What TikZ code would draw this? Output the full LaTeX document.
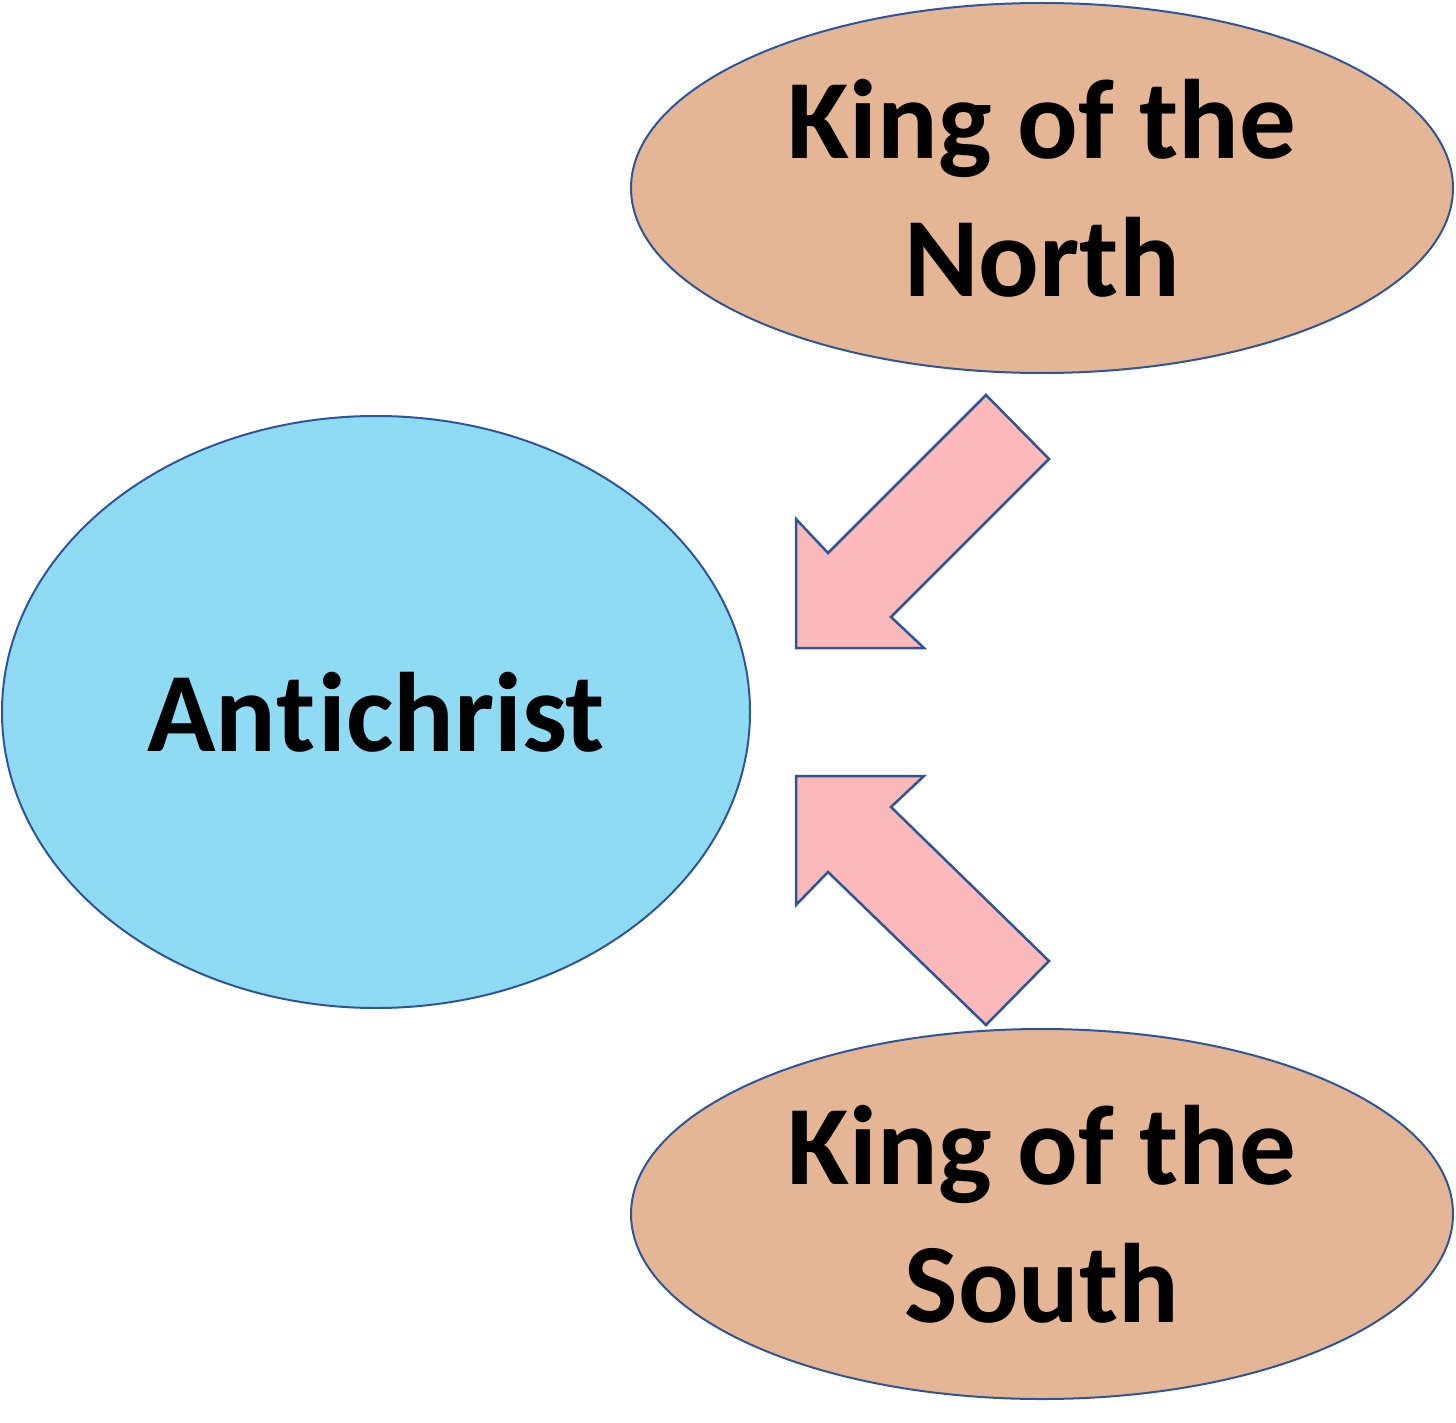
\documentclass[tikz,border=0pt]{standalone}
\usepackage{fontspec}
\setmainfont{Carlito}[Ligatures=NoCommon]
\usetikzlibrary{shapes.geometric}

\definecolor{kingfill}{HTML}{E4B696}
\definecolor{antifill}{HTML}{90DBF4}
\definecolor{arrowfill}{HTML}{FBB9B9}
\definecolor{edgeblue}{HTML}{2F5597}

\begin{document}
\begin{tikzpicture}[
    x=1pt, y=-1pt,
    every node/.style={font=\fontsize{113}{138}\selectfont\bfseries},
    king/.style={
        ellipse,
        draw=edgeblue,
        line width=2pt,
        fill=kingfill,
        minimum width=822pt,
        minimum height=370pt,
        inner sep=0pt,
        align=center
    },
    anti/.style={
        ellipse,
        draw=edgeblue,
        line width=2pt,
        fill=antifill,
        minimum width=748pt,
        minimum height=592pt,
        inner sep=0pt
    },
    blockarrow/.style={draw=edgeblue, line width=2.5pt, fill=arrowfill, line join=miter}
]
\useasboundingbox (0,0) rectangle (1456,1423);

% the three powers
\node[king] (north) at (1042,188) {King of the\\North};
\node[anti] (anti) at (376,712) {An\mbox{t}\kern3pt ichrist};
\node[king] (south) at (1042,1214) {King of the\\South};

% arrows pushing in on the antichrist
\draw[blockarrow] (986,395) -- (1049,459) -- (891,617) -- (924,648)
    -- (796,648) -- (796,519) -- (828,553) -- cycle;
\draw[blockarrow] (986,1025) -- (1049,961) -- (891,807) -- (924,776)
    -- (796,776) -- (796,905) -- (828,872) -- cycle;

\end{tikzpicture}
\end{document}
